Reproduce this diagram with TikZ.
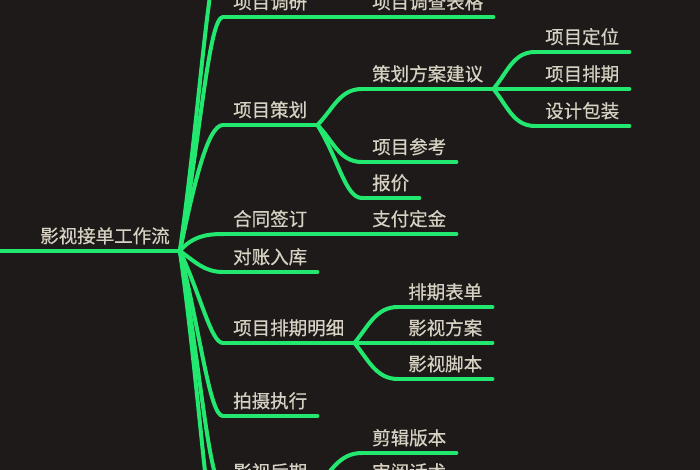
\documentclass[tikz,border=0pt]{standalone}
\usepackage{fontspec}
\setmainfont{Noto Sans CJK SC}[FakeBold=0.5]

\definecolor{bg}{RGB}{30,26,25}
\definecolor{lime}{RGB}{34,232,112}
\definecolor{txt}{RGB}{214,209,194}

\tikzset{
  topic/.style={anchor=south west, inner xsep=10pt, inner ysep=8pt,
    text depth=0pt, text=txt, font=\fontsize{18.5pt}{20pt}\selectfont},
  branch/.style={draw=lime, line width=4pt, line cap=round},
  trunk/.style={branch, out looseness=1.3, in looseness=0.15},
}

\begin{document}
\begin{tikzpicture}[x=1pt, y=1pt]
\useasboundingbox (0,0) rectangle (700,-470);
\clip (0,0) rectangle (700,-470);
\fill[bg] (0,0) rectangle (700,-470);

\def\xa{223}
\def\xb{362}
\def\xc{535}
\def\xd{398}

\coordinate (rl) at (0,-251);
\coordinate (top) at (\xa,50);
\coordinate (bot) at (\xa,-560);
\node[topic] (root) at (30,-251) {影视接单工作流};

\node[topic] (ty) at (\xa,-17) {项目调研};
\node[topic] (dc) at (\xb,-17) {项目调查表格};
\node[topic] (ch) at (\xa,-125) {项目策划};
\node[topic] (fa) at (\xb,-89) {策划方案建议};
\node[topic] (dw) at (\xc,-52) {项目定位};
\node[topic] (pq) at (\xc,-89) {项目排期};
\node[topic] (bz) at (\xc,-126) {设计包装};
\node[topic] (ck) at (\xb,-162) {项目参考};
\node[topic] (bj) at (\xb,-198) {报价};
\node[topic] (ht) at (\xa,-234) {合同签订};
\node[topic] (zf) at (\xb,-234) {支付定金};
\node[topic] (dz) at (\xa,-272) {对账入库};
\node[topic] (mx) at (\xa,-343) {项目排期明细};
\node[topic] (bd) at (\xd,-307) {排期表单};
\node[topic] (fs) at (\xd,-343) {影视方案};
\node[topic] (jb) at (\xd,-379) {影视脚本};
\node[topic] (zx) at (\xa,-416) {拍摄执行};
\node[topic] (hq) at (\xa,-487) {影视后期};
\node[topic] (jj) at (\xb,-453) {剪辑版本};
\node[topic] (hs) at (\xb,-487) {审阅话术};

% main line and trunks
\draw[branch] (rl) -- (root.south east);
\draw[trunk] (root.south east) to [out=82, in=180, in looseness=0.12] (top);
\draw[trunk] (root.south east) to [out=80, in=180] (ty.south west);
\draw[trunk] (root.south east) to [out=78, in=180, in looseness=0.3] (ch.south west);
\draw[branch] (root.south east) to [out=50, in=180] (ht.south west);
\draw[branch] (root.south east) to [out=-35, in=180] (dz.south west);
\draw[trunk] (root.south east) to [out=-65, in=180, in looseness=0.3] (mx.south west);
\draw[trunk] (root.south east) to [out=-76, in=180, in looseness=0.2] (zx.south west);
\draw[trunk] (root.south east) to [out=-80, in=180] (hq.south west);
\draw[trunk] (root.south east) to [out=-82, in=180, in looseness=0.12] (bot);

% underlines
\draw[branch] (ty.south west) -- (ty.south east);
\draw[branch] (dc.south west) -- (dc.south east);
\draw[branch] (ch.south west) -- (ch.south east);
\draw[branch] (fa.south west) -- (fa.south east);
\draw[branch] (dw.south west) -- (dw.south east);
\draw[branch] (pq.south west) -- (pq.south east);
\draw[branch] (bz.south west) -- (bz.south east);
\draw[branch] (ck.south west) -- (ck.south east);
\draw[branch] (bj.south west) -- (bj.south east);
\draw[branch] (ht.south west) -- (ht.south east);
\draw[branch] (zf.south west) -- (zf.south east);
\draw[branch] (dz.south west) -- (dz.south east);
\draw[branch] (mx.south west) -- (mx.south east);
\draw[branch] (bd.south west) -- (bd.south east);
\draw[branch] (fs.south west) -- (fs.south east);
\draw[branch] (jb.south west) -- (jb.south east);
\draw[branch] (zx.south west) -- (zx.south east);
\draw[branch] (hq.south west) -- (hq.south east);
\draw[branch] (jj.south west) -- (jj.south east);
\draw[branch] (hs.south west) -- (hs.south east);

% sub branches
\draw[branch] (ty.south east) -- (dc.south west);
\draw[branch] (ch.south east) to [out=45, in=180] (fa.south west);
\draw[branch] (ch.south east) to [out=-45, in=180] (ck.south west);
\draw[branch] (ch.south east) to [out=-58, in=180, out looseness=1.2, in looseness=0.5] (bj.south west);
\draw[branch] (fa.south east) to [out=50, in=180] (dw.south west);
\draw[branch] (fa.south east) -- (pq.south west);
\draw[branch] (fa.south east) to [out=-50, in=180] (bz.south west);
\draw[branch] (ht.south east) -- (zf.south west);
\draw[branch] (mx.south east) to [out=50, in=180] (bd.south west);
\draw[branch] (mx.south east) -- (fs.south west);
\draw[branch] (mx.south east) to [out=-50, in=180] (jb.south west);
\draw[branch] (hq.south east) to [out=50, in=180] (jj.south west);
\draw[branch] (hq.south east) -- (hs.south west);
\end{tikzpicture}
\end{document}
